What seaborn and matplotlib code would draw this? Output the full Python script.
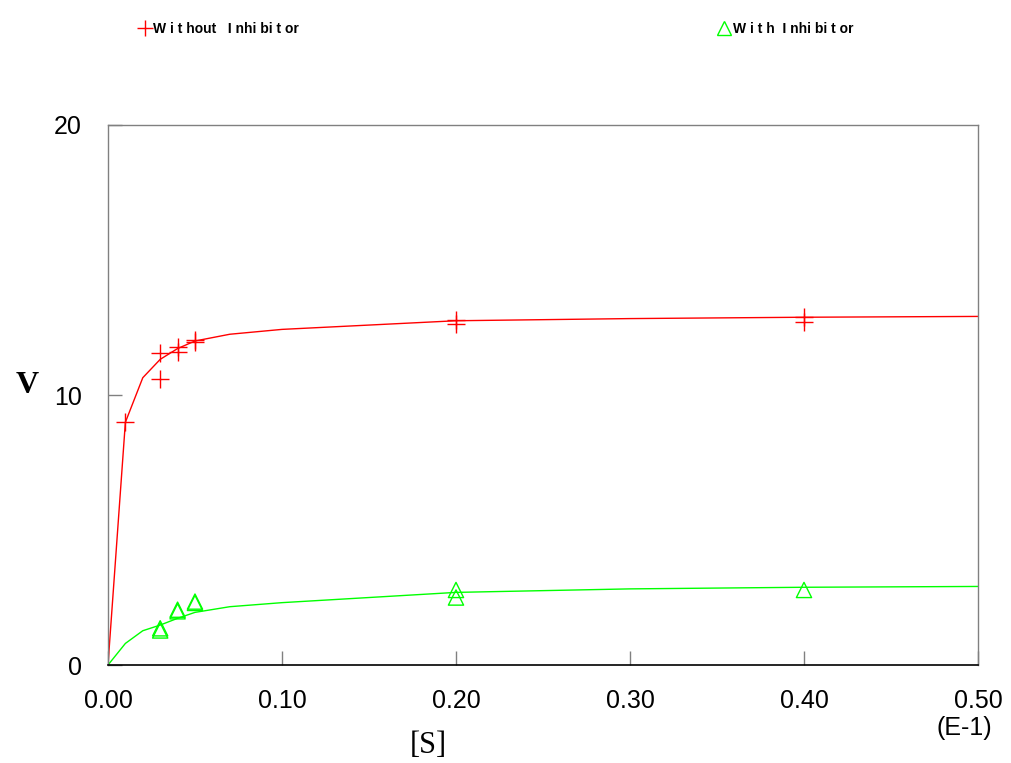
import numpy as np
import pandas as pd
import matplotlib
matplotlib.use("Agg")
import matplotlib.pyplot as plt
import seaborn as sns
from matplotlib.lines import Line2D

# measured points, [S] in units of E-1
s_without = [0.01, 0.03, 0.03, 0.04, 0.04, 0.05, 0.05, 0.20, 0.20, 0.40, 0.40]
v_without = [8.99, 11.54, 10.59, 11.79, 11.60, 12.04, 11.95, 12.78, 12.63, 12.88, 12.69]

s_with = [0.03, 0.03, 0.04, 0.04, 0.05, 0.05, 0.20, 0.20, 0.40]
v_with = [1.28, 1.36, 1.99, 2.05, 2.30, 2.35, 2.78, 2.50, 2.78]

# fitted curves
s_fit = [0.0, 0.01, 0.02, 0.03, 0.04, 0.05, 0.07, 0.10, 0.20, 0.30, 0.40, 0.50]
fit_without = [0.0, 8.99, 10.64, 11.32, 11.72, 12.00, 12.25, 12.43, 12.75, 12.83, 12.88, 12.91]
fit_with = [0.0, 0.80, 1.27, 1.48, 1.73, 1.95, 2.16, 2.31, 2.69, 2.82, 2.88, 2.91]

x_ticks = [0.0, 0.1, 0.2, 0.3, 0.4, 0.5]
y_ticks = [0, 10, 20]

RED = "#ff0000"
GREEN = "#00ff00"

sns.set_style("white")
plt.rcParams["font.family"] = ["Liberation Sans", "DejaVu Sans"]
plt.rcParams["text.color"] = "black"
plt.rcParams["xtick.color"] = "black"
plt.rcParams["ytick.color"] = "black"

fig = plt.figure(figsize=(10.12, 7.63), dpi=100)
ax = fig.add_axes([0.1067, 0.1284, 0.8597, 0.7078])

df_fit = pd.DataFrame({"s": s_fit, "without": fit_without, "with": fit_with})
sns.lineplot(data=df_fit, x="s", y="without", color=RED, lw=1.0, ax=ax)
sns.lineplot(data=df_fit, x="s", y="with", color=GREEN, lw=1.0, ax=ax)

sns.scatterplot(x=s_without, y=v_without, marker="+", s=160, color=RED,
                linewidths=1.0, ax=ax, zorder=3)
sns.scatterplot(x=s_with, y=v_with, marker="^", s=120, facecolors="none",
                edgecolor=GREEN, linewidths=1.0, ax=ax, zorder=3)

ax.set_xlim(0, 0.5)
ax.set_ylim(0, 20)
ax.set_xticks(x_ticks)
ax.set_xticklabels([f"{t:.2f}" for t in x_ticks])
ax.set_yticks(y_ticks)
ax.set_yticklabels([str(t) for t in y_ticks])
ax.tick_params(axis="x", bottom=True, direction="in", length=10, width=1,
               color="#808080", labelcolor="black", pad=17, labelsize=18)
ax.tick_params(axis="y", left=True, direction="in", length=10, width=1,
               color="#808080", labelcolor="black", pad=19, labelsize=18)
ax.set_xlabel("")
ax.set_ylabel("")

for side in ["left", "top", "right"]:
    ax.spines[side].set_color("#808080")
    ax.spines[side].set_linewidth(1.0)
ax.spines["bottom"].set_color("black")
ax.spines["bottom"].set_linewidth(1.2)

fig.text(0.027, 0.495, "V", family="Liberation Serif", fontweight="bold",
         fontsize=23, ha="center", va="center")
fig.text(0.423, 0.004, "[S]", family="Liberation Serif", fontsize=22,
         ha="center", va="bottom")
fig.text(0.980, 0.030, "(E-1)", fontsize=18, ha="right", va="bottom")

h1 = Line2D([], [], color=RED, marker="+", ls="none", markersize=12, mew=1.0)
h2 = Line2D([], [], color=GREEN, marker="^", ls="none", markersize=10,
            mfc="none", mew=1.0)
leg1 = ax.legend([h1], ["W i t hout   I nhi bi t or"], loc="upper left",
                 bbox_to_anchor=(0.125, 0.988), bbox_transform=fig.transFigure,
                 frameon=False, handlelength=0.8, handletextpad=0.2,
                 prop={"weight": "bold", "size": 10})
ax.add_artist(leg1)
ax.legend([h2], ["W i t h  I nhi bi t or"], loc="upper left",
          bbox_to_anchor=(0.698, 0.988), bbox_transform=fig.transFigure,
          frameon=False, handlelength=0.8, handletextpad=0.2,
          prop={"weight": "bold", "size": 10})

plt.savefig("out.png", dpi=100)
plt.close()
